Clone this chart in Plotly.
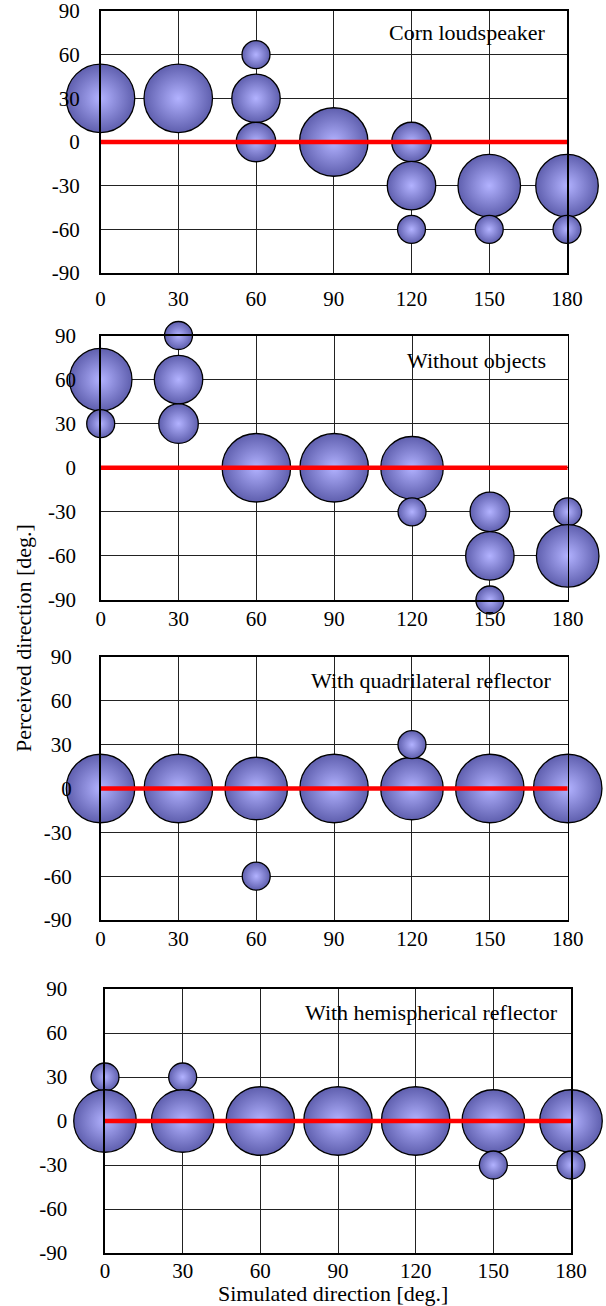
import plotly.graph_objects as go

W, H = 606, 1306

# ---- data (counts of responses out of 6 subjects) ----
corn_x = [0, 30, 60, 60, 60, 90, 120, 120, 120, 150, 150, 180, 180]
corn_y = [30, 30, 60, 30, 0, 0, 0, -30, -60, -30, -60, -30, -60]
corn_n = [6, 6, 1, 3, 2, 6, 2, 3, 1, 5, 1, 5, 1]

without_x = [0, 0, 30, 30, 30, 60, 90, 120, 120, 150, 150, 150, 180, 180]
without_y = [60, 30, 90, 60, 30, 0, 0, 0, -30, -30, -60, -90, -30, -60]
without_n = [5, 1, 1, 3, 2, 6, 6, 5, 1, 2, 3, 1, 1, 5]

quad_x = [0, 30, 60, 60, 90, 120, 120, 150, 180]
quad_y = [0, 0, 0, -60, 0, 0, 30, 0, 0]
quad_n = [6, 6, 5, 1, 6, 5, 1, 6, 6]

hemi_x = [0, 0, 30, 30, 60, 90, 120, 150, 150, 180, 180]
hemi_y = [30, 0, 30, 0, 0, 0, 0, 0, -30, 0, -30]
hemi_n = [1, 5, 1, 5, 6, 6, 6, 5, 1, 5, 1]

ref_x = [0, 180]
ref_y = [0, 0]

xtick_vals = [0, 30, 60, 90, 120, 150, 180]
xtick_text = ["0", "30", "60", "90", "120", "150", "180"]
ytick_vals = [-90, -60, -30, 0, 30, 60, 90]
ytick_text = ["-90", "-60", "-30", "0", "30", "60", "90"]

panel_titles = ["Corn loudspeaker", "Without objects",
                "With quadrilateral reflector", "With hemispherical reflector"]
x_title = "Simulated direction [deg.]"
y_title = "Perceived direction [deg.]"

panels = [
    (corn_x, corn_y, corn_n),
    (without_x, without_y, without_n),
    (quad_x, quad_y, quad_n),
    (hemi_x, hemi_y, hemi_n),
]

# ---- layout geometry (window pixels) ----
# left, right, top, bottom, x-label standoff, y-ticklen, title right px, title center y px
geo = [
    (100.5, 567.0, 11.0, 273.0, 6, 15, 547, 33),
    (100.7, 567.7, 335.5, 600.0, -1, 19, 548, 360),
    (100.5, 567.7, 657.0, 920.0, -1, 23, 553, 680),
    (105.0, 571.0, 989.0, 1253.0, -2, 32, 560, 1012),
]


def px(x):
    return x / W


def py(y):
    return 1 - y / H


FONT = "Liberation Serif"
max_n = 6
max_d = 68.5
sizeref = 2.0 * max_n / (max_d ** 2)

fig = go.Figure()
layout = dict(
    width=W, height=H,
    margin=dict(l=0, r=0, t=0, b=0, autoexpand=False),
    paper_bgcolor="white", plot_bgcolor="white",
    showlegend=False,
    font=dict(family=FONT, size=21, color="black"),
)
annotations = []

for i, ((dx, dy, dn), g) in enumerate(zip(panels, geo)):
    L, R, T, B, xso, ytl, tr, ty = g
    k = "" if i == 0 else str(i + 1)
    xa, ya = "x" + k, "y" + k
    fig.add_trace(go.Scatter(
        x=dx, y=dy, mode="markers", xaxis=xa, yaxis=ya,
        cliponaxis=False, hoverinfo="skip",
        marker=dict(size=dn, sizemode="area", sizeref=sizeref,
                    color="#5f5fae",
                    gradient=dict(type="radial", color="#b2b2ff"),
                    line=dict(color="black", width=1.3), opacity=1),
    ))
    fig.add_trace(go.Scatter(
        x=ref_x, y=ref_y, mode="lines", xaxis=xa, yaxis=ya,
        cliponaxis=False, hoverinfo="skip",
        line=dict(color="#ff0000", width=4.5),
    ))
    common = dict(
        showgrid=True, gridcolor="#222222", gridwidth=1,
        zeroline=False, showline=True, mirror=True,
        linecolor="black", linewidth=1.6,
        tickcolor="rgba(0,0,0,0)",
        tickfont=dict(family=FONT, size=21, color="black"),
        layer="above traces", fixedrange=True, automargin=False,
        ticklabeloverflow="allow",
    )
    layout["xaxis" + k] = dict(
        domain=[px(L), px(R)], range=[0, 180], anchor=ya,
        tickmode="array", tickvals=xtick_vals, ticktext=xtick_text,
        ticks="", ticklabelstandoff=xso, **common,
    )
    layout["yaxis" + k] = dict(
        domain=[py(B), py(T)], range=[-90, 90], anchor=xa,
        tickmode="array", tickvals=ytick_vals, ticktext=ytick_text,
        ticks="outside", ticklen=ytl, **common,
    )
    annotations.append(dict(
        text=panel_titles[i], xref="paper", yref="paper",
        x=px(tr), y=py(ty), xanchor="right", yanchor="middle",
        showarrow=False, font=dict(family=FONT, size=22, color="black"),
    ))

annotations.append(dict(
    text=x_title, xref="paper", yref="paper", x=px(333), y=py(1293),
    xanchor="center", yanchor="middle", showarrow=False,
    font=dict(family=FONT, size=22, color="black"),
))
annotations.append(dict(
    text=y_title, xref="paper", yref="paper", x=px(23), y=py(638),
    xanchor="center", yanchor="middle", showarrow=False, textangle=-90,
    font=dict(family=FONT, size=22, color="black"),
))

layout["annotations"] = annotations
fig.update_layout(**layout)
fig.write_html(
    "out.html",
    config={"displayModeBar": False, "staticPlot": True},
    post_script="document.body.style.margin='0';document.body.style.overflow='hidden';",
)
